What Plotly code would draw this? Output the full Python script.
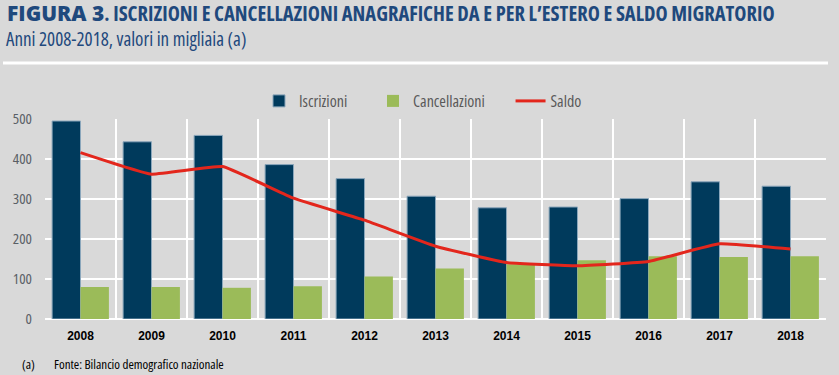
import plotly.graph_objects as go

anni = ["2008", "2009", "2010", "2011", "2012", "2013", "2014", "2015", "2016", "2017", "2018"]
iscrizioni = [495, 443, 459, 386, 351, 307, 278, 280, 301, 343, 332]
cancellazioni = [80, 80, 78, 82, 106, 126, 137, 147, 157, 155, 157]
saldo = [416, 362, 381, 302, 247, 182, 141, 133, 144, 188, 175]
y_ticks = [0, 100, 200, 300, 400, 500]

ARIAL = "Liberation Sans, Arial, sans-serif"
OPEN = "Open Sans, Liberation Sans, sans-serif"
BG = "#d9d9d9"
TITLE_C = "#1f497d"


def cond(s):
    return "<span style='font-stretch:condensed'>" + s + "</span>"


NBSP = "&nbsp;" * 7

fig = go.Figure()
fig.add_trace(go.Bar(x=anni, y=iscrizioni, name=cond("Iscrizioni" + NBSP),
                     marker=dict(color="#003a5c", line=dict(color="#8aa6bb", width=1))))
fig.add_trace(go.Bar(x=anni, y=cancellazioni, name=cond("Cancellazioni" + NBSP),
                     marker=dict(color="#9bbb59", line=dict(width=0))))
fig.add_trace(go.Scatter(x=anni, y=saldo, name=cond("Saldo"), mode="lines",
                         line=dict(color="#e3261c", width=3, shape="spline", smoothing=0.3)))

W, H = 839, 375
L, R, T, B = 45, 13, 119, 56
pw, ph = W - L - R, H - T - B


def px(x):
    return (x - L) / pw


def py(y):
    return (H - B - y) / ph


fig.update_layout(
    width=W, height=H,
    margin=dict(l=L, r=R, t=T, b=B),
    paper_bgcolor=BG, plot_bgcolor=BG,
    barmode="group", bargap=0.2, bargroupgap=0,
    showlegend=True,
    legend=dict(orientation="h", x=px(259), y=py(101), xanchor="left", yanchor="middle",
                font=dict(family=OPEN, size=16, color="#595959"),
                bgcolor="rgba(0,0,0,0)", itemwidth=30, traceorder="normal"),
    xaxis=dict(type="category", tickson="boundaries", showgrid=True, gridcolor="white", gridwidth=2,
               ticks="", showline=False,
               tickfont=dict(family=ARIAL, size=12, color="#000000", weight="bold"),
               ticklabelstandoff=8),
    yaxis=dict(range=[0, 500], tickvals=y_ticks, ticktext=[cond(str(v)) for v in y_ticks],
               showgrid=True, gridcolor="white", gridwidth=2,
               zeroline=True, zerolinecolor="white", zerolinewidth=2, showline=False, ticks="",
               tickfont=dict(family=OPEN, size=15, color="#595f66"),
               ticklabelstandoff=12),
    font=dict(family=ARIAL),
    annotations=[
        dict(xref="paper", yref="paper", x=px(5), y=py(13), xanchor="left", yanchor="middle",
             showarrow=False,
             text="<span style='font-weight:800'>FIGURA 3</span>"
                  "<span style='font-size:20.5px;font-weight:bold;font-stretch:condensed'>. ISCRIZIONI E CANCELLAZIONI ANAGRAFICHE DA E PER L’ESTERO E SALDO MIGRATORIO</span>",
             font=dict(family=OPEN, size=21, color=TITLE_C)),
        dict(xref="paper", yref="paper", x=px(4), y=py(39), xanchor="left", yanchor="middle",
             showarrow=False,
             text=cond("Anni 2008-2018, valori in migliaia (a)"),
             font=dict(family=OPEN, size=19, color=TITLE_C)),
        dict(xref="paper", yref="paper", x=px(20), y=py(364), xanchor="left", yanchor="middle",
             showarrow=False, text=cond("(a)"),
             font=dict(family=OPEN, size=13, color="#000000")),
        dict(xref="paper", yref="paper", x=px(52), y=py(364), xanchor="left", yanchor="middle",
             showarrow=False, text=cond("Fonte: Bilancio demografico nazionale"),
             font=dict(family=OPEN, size=13, color="#000000")),
    ],
    shapes=[
        dict(type="line", xref="paper", yref="paper", x0=px(3), x1=px(828), y0=py(63), y1=py(63),
             line=dict(color="white", width=3)),
    ],
)

fig.write_html("out.html", config={"displayModeBar": False},
               post_script="document.body.style.margin='0';document.body.style.padding='0';")
